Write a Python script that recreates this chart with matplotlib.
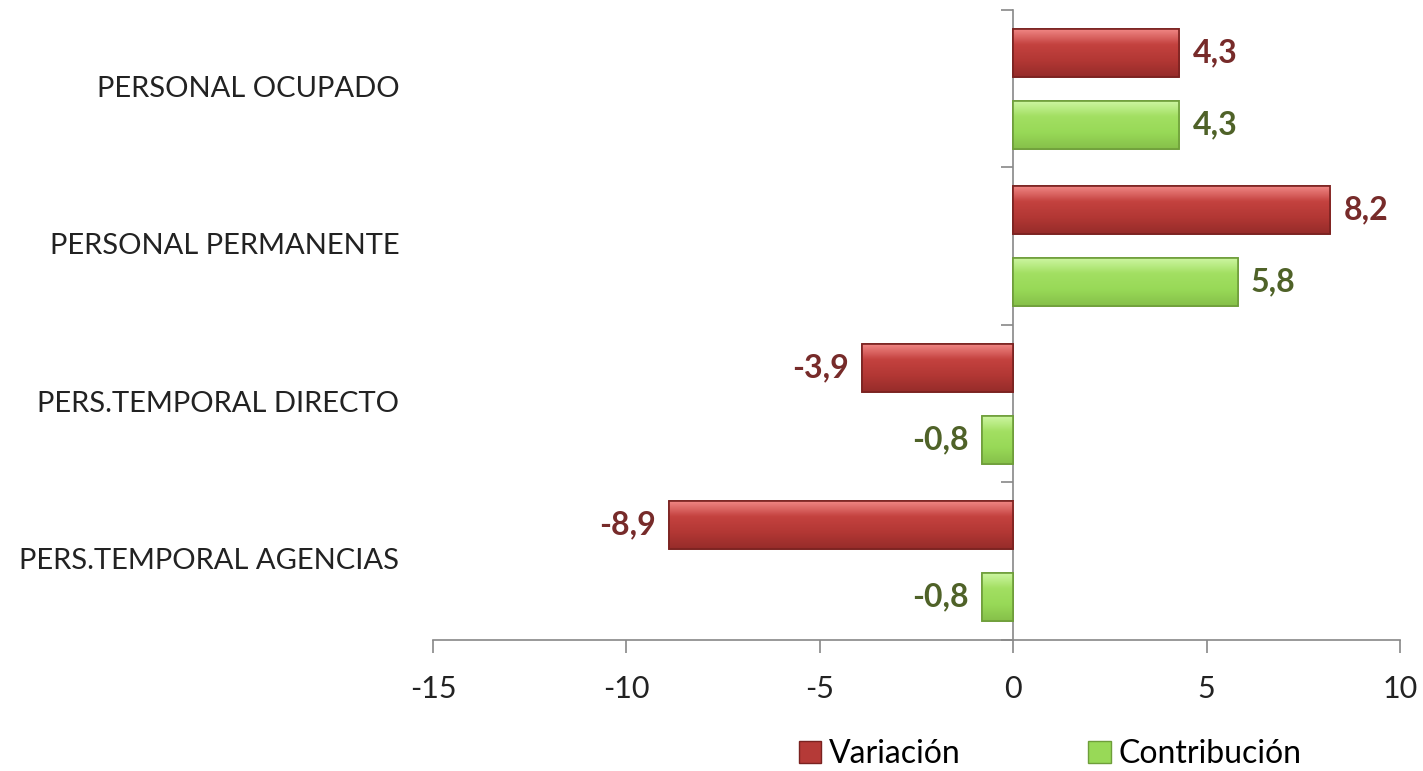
import numpy as np
import matplotlib
matplotlib.use("Agg")
import matplotlib.pyplot as plt
from matplotlib.colors import LinearSegmentedColormap
from matplotlib.patches import Rectangle

categories = ["PERSONAL OCUPADO", "PERSONAL PERMANENTE",
              "PERS.TEMPORAL DIRECTO", "PERS.TEMPORAL AGENCIAS"]
variacion = [4.3, 8.2, -3.9, -8.9]
contribucion = [4.3, 5.8, -0.8, -0.8]
series_names = ["Variación", "Contribución"]
xticks = [-15, -10, -5, 0, 5, 10]

plt.rcParams['font.family'] = ['Lato', 'DejaVu Sans']

red_face, red_edge, red_text = "#B53A37", "#7A2220", "#772B2A"
green_face, green_edge, green_text = "#98D957", "#6E9E3A", "#4F6228"
red_cmap = LinearSegmentedColormap.from_list("r", ["#F28A88", "#C4423F", "#B23734", "#962C2A"])
green_cmap = LinearSegmentedColormap.from_list("g", ["#CFF7A4", "#A2DF62", "#98D957", "#86C04A"])

fig = plt.figure(figsize=(14.23, 7.71), dpi=100)
ax = fig.add_axes([0.3043, 0.170, 0.6795, 0.817])

y = np.arange(len(categories))
off, h = 0.229, 0.305
bars_v = ax.barh(y - off, variacion, height=h, color=red_face, edgecolor=red_edge, linewidth=1.2, zorder=3)
bars_c = ax.barh(y + off, contribucion, height=h, color=green_face, edgecolor=green_edge, linewidth=1.2, zorder=3)

grad = np.linspace(0, 1, 64).reshape(-1, 1)
for bars, cmap in ((bars_v, red_cmap), (bars_c, green_cmap)):
    for b in bars:
        x0, y0, w, hh = b.get_x(), b.get_y(), b.get_width(), b.get_height()
        im = ax.imshow(grad, cmap=cmap, aspect='auto', zorder=3.5,
                       extent=(min(x0, x0 + w), max(x0, x0 + w), y0 + hh, y0))
        im.set_clip_path(b)
        ax.add_patch(Rectangle((x0, y0), w, hh, fill=False, edgecolor=b.get_edgecolor(),
                               linewidth=1.2, zorder=4))

for bars, vals, col in ((bars_v, variacion, red_text), (bars_c, contribucion, green_text)):
    for b, v in zip(bars, vals):
        yc = b.get_y() + b.get_height() / 2
        txt = f"{v:.1f}".replace(".", ",")
        if v >= 0:
            ax.text(v + 0.35, yc, txt, ha='left', va='center', fontsize=23, fontweight='bold', color=col)
        else:
            ax.text(v - 0.35, yc, txt, ha='right', va='center', fontsize=23, fontweight='bold', color=col)

ax.set_xlim(-15, 10)
ax.set_ylim(len(categories) - 0.5, -0.5)
ax.set_xticks(xticks)
ax.set_xticklabels([str(t) for t in xticks], fontsize=22, color="#222222")
ax.tick_params(axis='x', direction='out', length=9, width=1.2, color="#888888", pad=16)

ax.spines['top'].set_visible(False)
ax.spines['right'].set_visible(False)
ax.spines['left'].set_position(('data', 0))
for s in ('left', 'bottom'):
    ax.spines[s].set_color("#888888")
    ax.spines[s].set_linewidth(1.2)
ax.set_yticks(np.arange(len(categories) + 1) - 0.5)
ax.set_yticklabels([])
ax.tick_params(axis='y', direction='out', length=9, width=1.2, color="#888888")

for yi, cat in zip(y, categories):
    ax.text(-0.035, yi, cat, transform=ax.get_yaxis_transform(), ha='right', va='center',
            fontsize=21, color="#222222")

handles = [Rectangle((0, 0), 1, 1, facecolor=red_face, edgecolor=red_edge),
           Rectangle((0, 0), 1, 1, facecolor=green_face, edgecolor=green_edge)]
fig.legend(handles, series_names, loc='center', bbox_to_anchor=(0.738, 0.022), ncol=2,
           frameon=False, fontsize=23, handlelength=0.7, handleheight=0.7,
           handletextpad=0.25, columnspacing=4.0)

fig.savefig("out.png", dpi=100)
